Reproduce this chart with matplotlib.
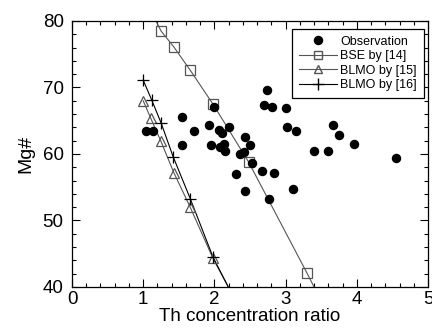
import matplotlib
matplotlib.use("Agg")
import matplotlib.pyplot as plt
from matplotlib.ticker import MultipleLocator

plt.rcParams['font.family'] = ['Liberation Sans', 'DejaVu Sans']

# Observations
obs_x = [1.04, 1.14, 1.54, 1.71, 1.54, 1.92, 1.99, 1.95, 2.06, 2.10, 2.20, 2.08, 2.13, 2.15,
         2.43, 2.50, 2.36, 2.41, 2.53, 2.31, 2.43, 2.74, 2.69, 2.81, 3.00, 3.02, 3.14, 3.67,
         3.75, 3.96, 3.40, 3.59, 4.55, 2.67, 2.84, 3.11, 2.77]
obs_y = [63.5, 63.5, 65.6, 63.5, 61.3, 64.3, 67.1, 61.3, 63.6, 63.1, 64.0, 61.1, 61.5, 60.4,
         62.6, 61.3, 60.0, 60.3, 58.7, 57.0, 54.5, 69.6, 67.4, 67.1, 66.9, 64.1, 63.5, 64.4,
         62.9, 61.5, 60.5, 60.4, 59.4, 57.5, 57.2, 54.8, 53.3]

# BSE by [14]
bse_x = [1.25, 1.43, 1.66, 1.98, 2.48, 3.30]
bse_y = [78.5, 76.1, 72.6, 67.5, 58.8, 42.1]
bse_line_x = [1.18, 1.25, 1.43, 1.66, 1.98, 2.48, 3.30, 3.40]
bse_line_y = [80.0, 78.5, 76.1, 72.6, 67.5, 58.8, 42.1, 40.0]

# BLMO by [15]
b15_x = [1.00, 1.105, 1.245, 1.43, 1.66, 1.98]
b15_y = [68.0, 65.4, 62.0, 57.2, 52.0, 44.3]
b15_line_x = [1.00, 1.105, 1.245, 1.43, 1.66, 1.98, 2.195]
b15_line_y = [68.0, 65.4, 62.0, 57.2, 52.0, 44.3, 40.0]

# BLMO by [16]
b16_x = [1.00, 1.12, 1.25, 1.42, 1.66, 1.98]
b16_y = [71.1, 68.1, 64.7, 59.6, 53.3, 44.5]
b16_line_x = [1.00, 1.12, 1.25, 1.42, 1.66, 1.98, 2.195]
b16_line_y = [71.1, 68.1, 64.7, 59.6, 53.3, 44.5, 40.0]

fig = plt.figure(figsize=(4.32, 3.31), dpi=100)
ax = fig.add_axes([0.1667, 0.133, 0.824, 0.8036])

grey = '#555555'
ax.plot(bse_line_x, bse_line_y, color=grey, lw=0.8, zorder=2)
ax.plot(b15_line_x, b15_line_y, color=grey, lw=0.8, zorder=2)
ax.plot(b16_line_x, b16_line_y, color='black', lw=0.8, zorder=2)

ax.plot(bse_x, bse_y, ls='none', marker='s', ms=7, mfc='none', mec=grey, mew=0.9, zorder=3)
ax.plot(b15_x, b15_y, ls='none', marker='^', ms=7, mfc='none', mec=grey, mew=0.9, zorder=3)
ax.plot(b16_x, b16_y, ls='none', marker='+', ms=9, mec='black', mew=0.9, zorder=3)
ax.plot(obs_x, obs_y, ls='none', marker='o', ms=5.8, color='black', zorder=4)

# legend proxies
h_obs, = ax.plot([], [], ls='none', marker='o', ms=5.8, color='black', label='Observation')
h_bse, = ax.plot([], [], color=grey, lw=0.8, marker='s', ms=6, mfc='none', mec=grey, label='BSE by [14]')
h_15, = ax.plot([], [], color=grey, lw=0.8, marker='^', ms=6, mfc='none', mec=grey, label='BLMO by [15]')
h_16, = ax.plot([], [], color='black', lw=0.8, marker='+', ms=8, label='BLMO by [16]')
leg = ax.legend(handles=[h_obs, h_bse, h_15, h_16], loc='upper right',
                bbox_to_anchor=(0.9888, 0.970), fontsize=9,
                frameon=True, fancybox=False, edgecolor='black', framealpha=1,
                borderpad=0.55, labelspacing=0.2, handlelength=3.0, handletextpad=0.3,
                borderaxespad=0)
leg.get_frame().set_linewidth(0.9)

ax.set_xlim(0, 5)
ax.set_ylim(40, 80)
ax.xaxis.set_major_locator(MultipleLocator(1))
ax.xaxis.set_minor_locator(MultipleLocator(0.2))
ax.yaxis.set_major_locator(MultipleLocator(10))
ax.yaxis.set_minor_locator(MultipleLocator(2))
ax.tick_params(which='both', direction='in', top=True, right=True, width=0.8)
ax.tick_params(which='major', length=6, labelsize=13.5)
ax.tick_params(axis='y', which='major', pad=6)
ax.tick_params(axis='x', which='major', pad=3)
ax.tick_params(which='minor', length=3)
for s in ax.spines.values():
    s.set_linewidth(0.9)

ax.set_xlabel('Th concentration ratio', fontsize=13.5, labelpad=0)
ax.set_ylabel('Mg#', fontsize=14, labelpad=6)

fig.savefig('out.png', dpi=100)
